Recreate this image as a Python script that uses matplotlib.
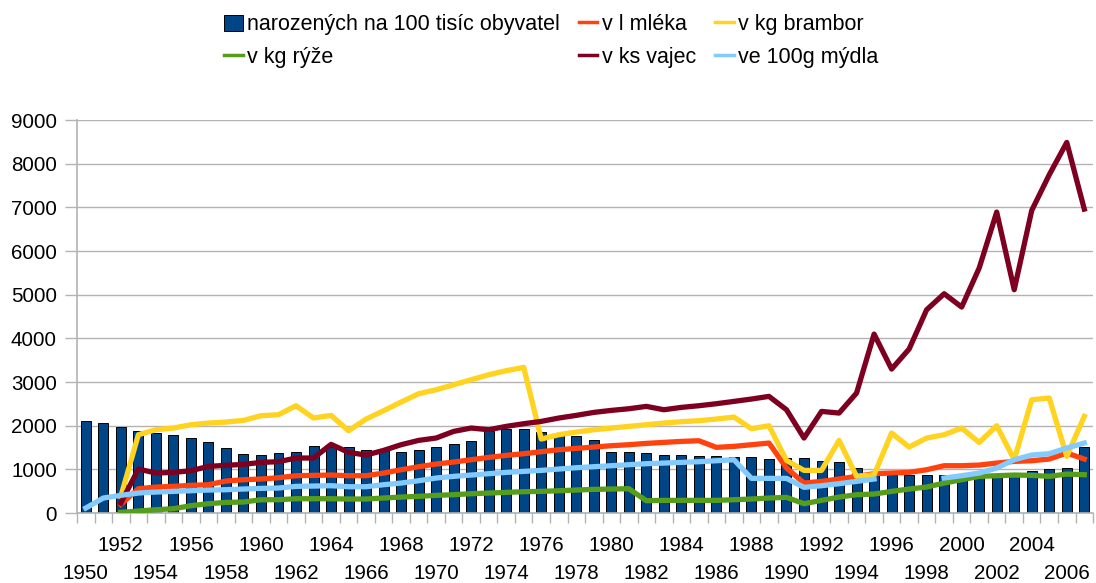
import numpy as np
import matplotlib.pyplot as plt
from matplotlib.ticker import FixedLocator

# years 1950 - 2007
years = list(range(1950, 2008))

# narozených na 100 tisíc obyvatel
births = [2100, 2060, 1977, 1878, 1824, 1779, 1718, 1634, 1481, 1344,
          1336, 1382, 1397, 1542, 1511, 1511, 1443, 1443, 1397, 1450,
          1511, 1580, 1649, 1870, 1924, 1924, 1847, 1794, 1756, 1672,
          1397, 1397, 1374, 1336, 1336, 1313, 1298, 1282, 1282, 1244,
          1260, 1260, 1183, 1168, 1031, 916, 878, 878, 878, 863,
          878, 878, 900, 916, 969, 1008, 1031, 1511]

nan = np.nan

# v l mléka
milk = [nan, nan, 200, 557, 595, 611, 634, 649, 733, 763,
        779, 809, 855, 863, 870, 855, 855, 916, 992, 1061,
        1122, 1168, 1221, 1275, 1321, 1359, 1405, 1450, 1481, 1511,
        1542, 1565, 1595, 1618, 1641, 1656, 1504, 1527, 1565, 1603,
        1031, 687, 725, 779, 840, 901, 916, 931, 992, 1084,
        1084, 1099, 1145, 1183, 1198, 1237, 1374, 1237]

# v kg brambor
potatoes = [nan, nan, 380, 1794, 1908, 1947, 2023, 2061, 2084, 2122,
            2229, 2252, 2458, 2176, 2237, 1885, 2153, 2344, 2542, 2733,
            2824, 2939, 3053, 3168, 3260, 3336, 1695, 1794, 1855, 1908,
            1947, 1985, 2023, 2061, 2092, 2115, 2153, 2198, 1931, 2000,
            1206, 977, 977, 1664, 840, 878, 1832, 1511, 1718, 1794,
            1947, 1618, 2000, 1221, 2595, 2634, 1298, 2214]

# v kg rýže
rice = [nan, nan, 15, 46, 76, 99, 168, 214, 244, 252,
        305, 305, 328, 328, 328, 321, 321, 344, 366, 382,
        405, 420, 443, 458, 473, 489, 496, 511, 527, 542,
        550, 557, 282, 290, 290, 290, 290, 305, 321, 344,
        359, 214, 290, 366, 420, 435, 496, 550, 595, 687,
        763, 840, 855, 870, 863, 840, 893, 878]

# v ks vajec
eggs = [nan, nan, 229, 1008, 916, 931, 969, 1069, 1092, 1115,
        1160, 1176, 1260, 1260, 1573, 1389, 1328, 1435, 1565, 1664,
        1718, 1870, 1947, 1908, 1985, 2046, 2099, 2176, 2237, 2305,
        2351, 2389, 2443, 2366, 2420, 2458, 2504, 2557, 2611, 2672,
        2366, 1718, 2328, 2290, 2748, 4099, 3298, 3756, 4656, 5023,
        4718, 5611, 6893, 5115, 6931, 7748, 8489, 6962]

# ve 100g mýdla
soap = [115, 344, 405, 458, 481, 496, 511, 527, 534, 550,
        565, 573, 611, 618, 626, 603, 603, 649, 687, 740,
        802, 840, 870, 901, 931, 954, 977, 1008, 1038, 1061,
        1084, 1107, 1130, 1145, 1160, 1176, 1198, 1221, 794, 794,
        794, 588, 626, 672, 725, 779, nan, nan, nan, 802,
        855, 916, 1031, 1221, 1328, 1359, 1489, 1603]

plt.rcParams['font.family'] = ['Liberation Sans', 'DejaVu Sans']

fig = plt.figure(figsize=(10.96, 5.83), dpi=100)
ax = fig.add_axes([0.0703, 0.12, 0.927, 0.674])

grid_col = '#b3b3b3'
fs = 14.8

ax.bar(years, births, width=0.57, color='#004586', edgecolor='black',
       linewidth=0.7, zorder=2, label='narozených na 100 tisíc obyvatel')

lw = 3.8
ax.plot(years, milk, color='#ff420e', lw=lw, zorder=3, label='v l mléka')
ax.plot(years, potatoes, color='#ffd320', lw=lw, zorder=3, label='v kg brambor')
ax.plot(years, rice, color='#579d1c', lw=lw, zorder=3, label='v kg rýže')
ax.plot(years, eggs, color='#7e0021', lw=lw, zorder=3, label='v ks vajec')
ax.plot(years, soap, color='#83caff', lw=lw, zorder=3, label='ve 100g mýdla')

ax.set_xlim(1949.5, 2007.5)
ax.set_ylim(0, 9000)
ax.set_yticks(range(0, 9001, 1000))
ax.yaxis.grid(True, color=grid_col, lw=1, zorder=0)
ax.set_axisbelow(True)

# staggered year labels: lower row on the main axis, upper row on a secondary one
ax.set_xticks(years[::4])
ax.xaxis.set_minor_locator(FixedLocator(np.arange(1949.5, 2008, 1)))
ax.tick_params(axis='x', which='major', length=0, pad=36.5, labelsize=fs)
ax.tick_params(axis='x', which='minor', length=7, color=grid_col, width=1)
ax.tick_params(axis='y', length=8.5, color=grid_col, width=1, labelsize=fs, pad=6)

sec = ax.secondary_xaxis('bottom')
sec.set_xticks(years[2::4])
sec.tick_params(axis='x', length=0, pad=16.5, labelsize=fs)
sec.spines['bottom'].set_visible(False)

for s in ['top', 'right']:
    ax.spines[s].set_visible(False)
for s in ['left', 'bottom']:
    ax.spines[s].set_color(grid_col)
    ax.spines[s].set_linewidth(1.2)

h, l = ax.get_legend_handles_labels()
# column-wise order for ncol=3
order_map = {lab: hh for hh, lab in zip(h, l)}
leg_labels = ['narozených na 100 tisíc obyvatel', 'v kg rýže',
              'v l mléka', 'v ks vajec',
              'v kg brambor', 've 100g mýdla']
leg = fig.legend([order_map[k] for k in leg_labels], leg_labels, ncol=3,
                 loc='upper center', bbox_to_anchor=(0.503, 1.009), frameon=False,
                 fontsize=15.5, handlelength=0.85, handletextpad=0.2,
                 columnspacing=0.9, labelspacing=0.55, handleheight=0.75)
for hh in leg.legend_handles:
    if hasattr(hh, 'set_linewidth') and not hasattr(hh, 'get_width'):
        hh.set_linewidth(2.5)

fig.savefig('out.png', dpi=100)
